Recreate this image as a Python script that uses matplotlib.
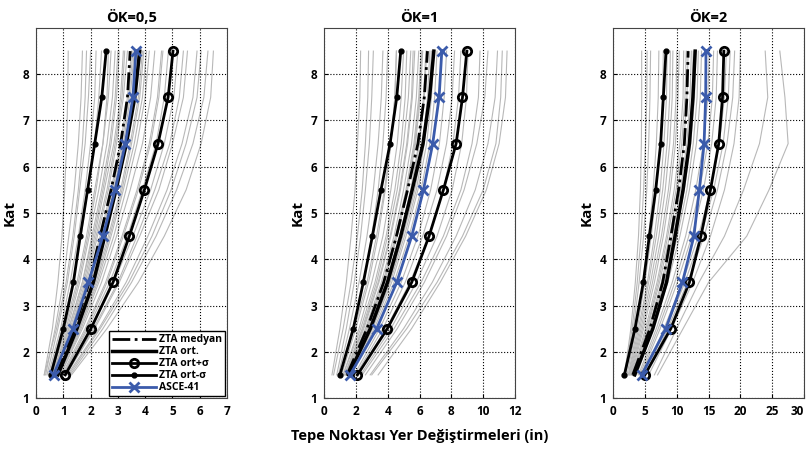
import numpy as np
import matplotlib
matplotlib.use("Agg")
from matplotlib import pyplot as plt

# kat seviyeleri
kat = [1.5, 2.5, 3.5, 4.5, 5.5, 6.5, 7.5, 8.5]

titles = ["ÖK=0,5", "ÖK=1", "ÖK=2"]
xmax = [7, 12, 30]
xticks = [range(0, 8), range(0, 13, 2), range(0, 31, 5)]

# ÖK=0,5
gri_05 = [
    [0.30, 0.60, 0.80, 0.95, 1.05, 1.12, 1.16, 1.18],
    [0.30, 0.75, 1.10, 1.35, 1.55, 1.70, 1.80, 1.85],
    [0.35, 0.70, 1.00, 1.20, 1.40, 1.55, 1.65, 1.70],
    [0.40, 0.80, 1.15, 1.40, 1.60, 1.80, 1.92, 2.00],
    [0.45, 0.90, 1.25, 1.55, 1.80, 2.00, 2.15, 2.20],
    [0.50, 0.95, 1.35, 1.65, 1.90, 2.15, 2.30, 2.40],
    [0.55, 1.10, 1.55, 1.90, 2.20, 2.45, 2.60, 2.65],
    [0.55, 1.05, 1.50, 1.85, 2.15, 2.45, 2.65, 2.75],
    [0.60, 1.15, 1.60, 1.95, 2.30, 2.60, 2.80, 2.90],
    [0.65, 1.20, 1.70, 2.05, 2.40, 2.70, 2.90, 3.00],
    [0.60, 1.20, 1.70, 2.10, 2.45, 2.75, 2.95, 3.05],
    [0.65, 1.25, 1.75, 2.15, 2.50, 2.85, 3.10, 3.20],
    [0.70, 1.30, 1.80, 2.20, 2.60, 2.90, 3.15, 3.25],
    [0.70, 1.30, 1.85, 2.25, 2.65, 2.95, 3.20, 3.35],
    [0.70, 1.35, 1.90, 2.35, 2.75, 3.10, 3.35, 3.50],
    [0.75, 1.40, 1.95, 2.40, 2.80, 3.15, 3.40, 3.55],
    [0.75, 1.40, 2.00, 2.45, 2.85, 3.20, 3.45, 3.60],
    [0.80, 1.45, 2.05, 2.50, 2.90, 3.30, 3.55, 3.70],
    [0.80, 1.50, 2.10, 2.55, 2.95, 3.35, 3.60, 3.75],
    [0.80, 1.55, 2.15, 2.65, 3.10, 3.45, 3.75, 3.90],
    [0.85, 1.60, 2.20, 2.70, 3.15, 3.50, 3.80, 3.95],
    [0.85, 1.60, 2.25, 2.75, 3.20, 3.60, 3.90, 4.05],
    [0.90, 1.65, 2.30, 2.85, 3.30, 3.70, 4.00, 4.15],
    [0.90, 1.70, 2.40, 2.95, 3.45, 3.90, 4.20, 4.35],
    [0.95, 1.80, 2.55, 3.15, 3.70, 4.15, 4.45, 4.60],
    [1.00, 1.85, 2.60, 3.20, 3.75, 4.20, 4.50, 4.65],
    [1.00, 1.90, 2.70, 3.35, 3.90, 4.40, 4.70, 4.85],
    [1.05, 2.00, 2.85, 3.55, 4.20, 4.70, 5.05, 5.20],
    [1.10, 2.10, 3.00, 3.70, 4.35, 4.90, 5.25, 5.40],
    [1.10, 2.15, 3.05, 3.80, 4.50, 5.00, 5.40, 5.55],
    [1.15, 2.30, 3.30, 4.10, 4.80, 5.35, 5.75, 5.90],
    [1.20, 2.35, 3.40, 4.25, 4.95, 5.50, 5.90, 6.05],
    [1.25, 2.45, 3.50, 4.40, 5.15, 5.75, 6.15, 6.30],
    [1.30, 2.60, 3.75, 4.70, 5.50, 6.05, 6.40, 6.50],
]
medyan_05 = [0.75, 1.40, 1.95, 2.35, 2.75, 3.10, 3.35, 3.45]
ort_05 = [0.80, 1.50, 2.10, 2.52, 2.93, 3.31, 3.62, 3.80]
ort_arti_05 = [1.07, 2.01, 2.82, 3.42, 3.97, 4.47, 4.84, 5.02]
ort_eksi_05 = [0.54, 1.00, 1.37, 1.62, 1.89, 2.15, 2.41, 2.57]
asce_05 = [0.64, 1.35, 1.92, 2.45, 2.90, 3.27, 3.55, 3.66]

# ÖK=1
gri_1 = [
    [0.5, 1.0, 1.4, 1.7, 1.95, 2.1, 2.25, 2.3],
    [0.6, 1.2, 1.7, 2.1, 2.4, 2.6, 2.75, 2.8],
    [0.8, 1.4, 1.9, 2.3, 2.6, 2.85, 3.0, 3.1],
    [0.9, 1.6, 2.2, 2.7, 3.1, 3.4, 3.6, 3.7],
    [1.0, 1.8, 2.5, 3.0, 3.4, 3.7, 3.9, 4.0],
    [1.0, 1.9, 2.7, 3.3, 3.8, 4.2, 4.45, 4.55],
    [1.1, 2.0, 2.8, 3.4, 3.85, 4.2, 4.45, 4.55],
    [1.2, 2.2, 3.0, 3.7, 4.2, 4.6, 4.85, 5.0],
    [1.2, 2.3, 3.2, 3.9, 4.45, 4.85, 5.1, 5.2],
    [1.3, 2.4, 3.3, 4.0, 4.6, 5.0, 5.3, 5.45],
    [1.3, 2.45, 3.4, 4.15, 4.75, 5.2, 5.5, 5.6],
    [1.35, 2.5, 3.45, 4.2, 4.8, 5.25, 5.55, 5.7],
    [1.4, 2.6, 3.6, 4.4, 5.0, 5.5, 5.8, 5.95],
    [1.4, 2.65, 3.7, 4.5, 5.15, 5.65, 5.95, 6.1],
    [1.45, 2.7, 3.75, 4.55, 5.2, 5.7, 6.0, 6.15],
    [1.5, 2.75, 3.8, 4.6, 5.25, 5.75, 6.05, 6.2],
    [1.5, 2.8, 3.9, 4.75, 5.45, 5.95, 6.25, 6.4],
    [1.55, 2.85, 3.95, 4.8, 5.5, 6.0, 6.3, 6.45],
    [1.6, 2.95, 4.1, 4.95, 5.7, 6.2, 6.5, 6.65],
    [1.6, 3.0, 4.15, 5.05, 5.8, 6.3, 6.6, 6.75],
    [1.65, 3.05, 4.25, 5.15, 5.9, 6.45, 6.75, 6.9],
    [1.7, 3.15, 4.4, 5.35, 6.1, 6.65, 6.95, 7.1],
    [1.9, 3.5, 4.85, 5.9, 6.7, 7.25, 7.55, 7.7],
    [2.0, 3.7, 5.1, 6.2, 7.1, 7.7, 8.05, 8.2],
    [2.1, 3.9, 5.4, 6.6, 7.5, 8.1, 8.45, 8.6],
    [2.3, 4.2, 5.8, 7.1, 8.05, 8.65, 8.95, 9.05],
    [2.4, 4.4, 6.1, 7.5, 8.6, 9.3, 9.7, 9.8],
    [2.6, 4.6, 6.3, 7.7, 8.8, 9.6, 10.1, 10.3],
    [2.9, 5.0, 6.8, 8.3, 9.5, 10.3, 10.75, 10.9],
    [3.0, 5.2, 7.1, 8.7, 10.0, 10.8, 11.1, 11.2],
    [3.4, 5.5, 7.3, 8.9, 10.2, 11.0, 11.4, 11.5],
]
medyan_1 = [1.45, 2.70, 3.75, 4.55, 5.25, 5.90, 6.30, 6.50]
ort_1 = [1.55, 2.91, 3.99, 4.82, 5.54, 6.22, 6.63, 6.90]
ort_arti_1 = [2.10, 3.98, 5.51, 6.60, 7.50, 8.30, 8.70, 8.97]
ort_eksi_1 = [1.00, 1.84, 2.47, 3.04, 3.58, 4.15, 4.57, 4.82]
asce_1 = [1.64, 3.31, 4.57, 5.51, 6.25, 6.83, 7.23, 7.40]

# ÖK=2
gri_2 = [
    [1.8, 2.8, 3.5, 4.0, 4.3, 4.45, 4.5, 4.5],
    [1.9, 3.0, 3.8, 4.4, 4.8, 5.1, 5.3, 5.35],
    [2.0, 3.2, 4.1, 4.8, 5.3, 5.6, 5.8, 5.9],
    [2.2, 3.6, 4.7, 5.6, 6.3, 6.8, 7.1, 7.2],
    [2.4, 3.8, 5.0, 6.0, 6.8, 7.4, 7.8, 7.9],
    [2.5, 4.0, 5.4, 6.5, 7.4, 8.0, 8.4, 8.5],
    [2.6, 4.2, 5.6, 6.8, 7.8, 8.5, 8.9, 9.0],
    [2.7, 4.4, 5.9, 7.2, 8.2, 8.9, 9.3, 9.4],
    [2.8, 4.6, 6.2, 7.6, 8.7, 9.5, 9.9, 10.0],
    [2.9, 4.8, 6.5, 7.9, 9.0, 9.8, 10.2, 10.4],
    [3.0, 5.1, 6.9, 8.4, 9.6, 10.5, 11.0, 11.1],
    [3.1, 5.3, 7.1, 8.6, 9.9, 10.8, 11.3, 11.5],
    [3.2, 5.4, 7.3, 8.9, 10.2, 11.1, 11.6, 11.8],
    [3.3, 5.6, 7.6, 9.3, 10.6, 11.6, 12.1, 12.3],
    [3.4, 5.7, 7.8, 9.5, 10.9, 11.9, 12.4, 12.6],
    [3.5, 5.9, 8.0, 9.8, 11.2, 12.2, 12.8, 13.0],
    [3.6, 6.1, 8.3, 10.1, 11.6, 12.6, 13.2, 13.4],
    [3.7, 6.3, 8.6, 10.5, 12.0, 13.1, 13.7, 13.9],
    [4.0, 6.8, 9.3, 11.4, 13.0, 14.2, 14.9, 15.1],
    [4.2, 7.1, 9.7, 11.9, 13.6, 14.9, 15.6, 15.8],
    [4.4, 7.4, 10.1, 12.4, 14.2, 15.5, 16.2, 16.4],
    [4.8, 8.0, 10.9, 13.4, 15.3, 16.7, 17.5, 17.8],
    [5.0, 8.3, 11.3, 13.8, 15.8, 17.3, 18.1, 18.4],
    [5.2, 8.6, 11.7, 14.3, 16.4, 17.9, 18.8, 19.1],
    [5.6, 9.2, 12.5, 15.3, 17.5, 19.0, 19.8, 20.0],
    [6.5, 10.0, 13.5, 17.5, 20.5, 23.0, 24.3, 23.9],
    [7.0, 11.0, 15.0, 21.0, 24.5, 27.5, 27.0, 26.2],
]
medyan_2 = [3.1, 5.8, 7.8, 9.1, 10.3, 11.2, 11.6, 11.8]
ort_2 = [3.4, 6.25, 8.4, 9.75, 11.0, 12.0, 12.55, 12.9]
ort_arti_2 = [5.0, 9.06, 12.0, 13.8, 15.3, 16.6, 17.2, 17.4]
ort_eksi_2 = [1.78, 3.45, 4.76, 5.70, 6.70, 7.48, 7.90, 8.32]
asce_2 = [4.5, 8.3, 10.9, 12.7, 13.55, 14.3, 14.55, 14.6]

gri = [gri_05, gri_1, gri_2]
medyan = [medyan_05, medyan_1, medyan_2]
ort = [ort_05, ort_1, ort_2]
ort_arti = [ort_arti_05, ort_arti_1, ort_arti_2]
ort_eksi = [ort_eksi_05, ort_eksi_1, ort_eksi_2]
asce = [asce_05, asce_1, asce_2]

plt.rcParams['font.family'] = ['Open Sans', 'DejaVu Sans']
plt.rcParams['font.weight'] = 'bold'

fig = plt.figure(figsize=(8.08, 4.53), dpi=100)
lefts = [0.0446, 0.401, 0.7587]
mavi = '#3b5bab'

for i in range(3):
    ax = fig.add_axes([lefts[i], 0.1214, 0.2364, 0.8168])
    for g in gri[i]:
        ax.plot(g, kat, color='#b8b8b8', lw=0.8, zorder=1)
    ax.plot(medyan[i], kat, color='black', ls='-.', lw=2, label='ZTA medyan', zorder=3)
    ax.plot(ort[i], kat, color='black', lw=2.5, label='ZTA ort.', zorder=3)
    ax.plot(ort_arti[i], kat, color='black', lw=2, marker='o', ms=6, mfc='none', mew=2,
            label='ZTA ort+σ', zorder=4)
    ax.plot(ort_eksi[i], kat, color='black', lw=2, marker='o', ms=3.5,
            label='ZTA ort-σ', zorder=4)
    ax.plot(asce[i], kat, color=mavi, lw=2, marker='x', ms=7, mew=2,
            label='ASCE-41', zorder=5)

    ax.set_xlim(0, xmax[i])
    ax.set_ylim(1, 9)
    ax.set_xticks(list(xticks[i]))
    ax.set_yticks(range(1, 9))
    ax.tick_params(direction='in', labelsize=8.5, length=3, pad=5)
    for lab in ax.get_xticklabels() + ax.get_yticklabels():
        lab.set_fontweight('bold')
    if i == 2:
        ax.get_xticklabels()[-1].set_horizontalalignment('right')
    ax.grid(True, color='black', ls=':', lw=0.8)
    ax.set_title(titles[i], fontsize=10.5, fontweight='bold', pad=4)
    ax.set_ylabel('Kat', fontsize=11, fontweight='bold', labelpad=4)
    for s in ax.spines.values():
        s.set_color('#444444')

    if i == 0:
        leg = ax.legend(loc='lower right', fontsize=7.5, frameon=True, fancybox=False,
                        borderaxespad=0.15, handlelength=4.2, handletextpad=0.3,
                        labelspacing=0.1, borderpad=0.3)
        leg.get_frame().set_edgecolor('black')
        leg.get_frame().set_linewidth(1)
        leg.get_frame().set_alpha(1)
        for t in leg.get_texts():
            t.set_fontweight('bold')
    if i == 1:
        ax.set_xlabel('Tepe Noktası Yer Değiştirmeleri (in)', fontsize=10.5,
                      fontweight='bold', labelpad=8)

plt.savefig('out.png', dpi=100)
